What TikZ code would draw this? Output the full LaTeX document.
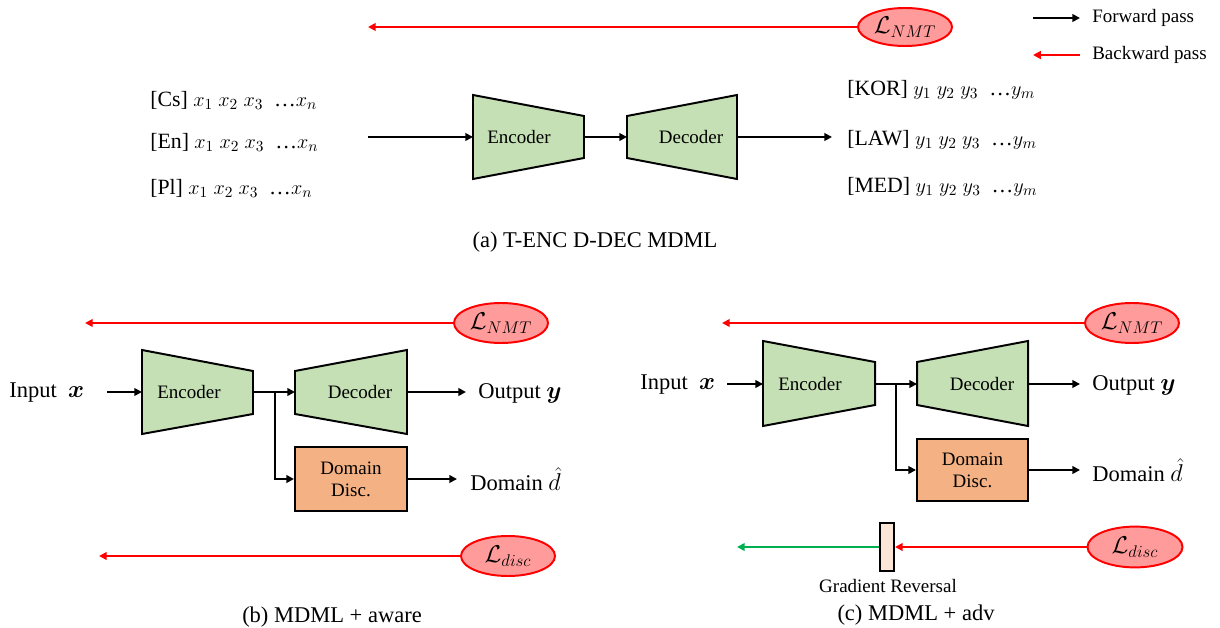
\documentclass[tikz,border=0pt]{standalone}
\usepackage{fontspec}
\setmainfont{Liberation Serif}
\usepackage{amsmath,bm}
\usetikzlibrary{arrows.meta,shapes.geometric}
\definecolor{encgreen}{HTML}{C5E0B4}
\definecolor{discorange}{HTML}{F4B183}
\definecolor{losspink}{HTML}{FF9B9B}
\definecolor{grfill}{HTML}{FBE5D6}
\definecolor{gradgreen}{HTML}{00B050}
\newcommand{\xseq}{$x_1\ x_2\ x_3$\ \ …$x_n$}
\newcommand{\yseq}{$y_1\ y_2\ y_3$\ \ …$y_m$}
\tikzset{
  fwd/.style={draw=black, line width=1.3pt, -{Triangle[length=5.5pt,width=5.5pt]}},
  bwd/.style={draw=red, line width=1.3pt, -{Triangle[length=5.5pt,width=5.5pt]}},
  gbwd/.style={draw=gradgreen, line width=1.3pt, -{Triangle[length=5.5pt,width=5.5pt]}},
  trap/.style={draw=black, fill=encgreen, line width=1.4pt, line join=miter},
  boxtext/.style={font=\fontsize{13.5}{16}\selectfont, inner sep=0pt},
  bigtext/.style={font=\fontsize{16}{19}\selectfont, inner sep=0pt, anchor=west},
  seqtext/.style={font=\fontsize{15.5}{18}\selectfont, inner sep=0pt, anchor=west},
  capt/.style={font=\fontsize{16}{19}\selectfont, inner sep=0pt},
  loss/.style={ellipse, draw=red, fill=losspink, line width=1.4pt, inner sep=0pt, font=\fontsize{16.5}{19}\selectfont},
  discbox/.style={draw=black, fill=discorange, line width=1.4pt, inner sep=0pt, align=center, font=\fontsize{13.5}{15.5}\selectfont},
  legtext/.style={font=\fontsize{13.5}{16}\selectfont, inner sep=0pt, anchor=west}
}
\begin{document}
\begin{tikzpicture}[x=0.025cm, y=-0.025cm]
\useasboundingbox (0,0) rectangle (1220,628);

% ---------------- (a) ----------------
\node[loss, minimum width=2.35cm, minimum height=0.95cm] (lossA) at (905,27) {$\mathcal{L}_{NMT}$};
\coordinate (bwdA) at (368,27);
\draw[bwd] (lossA.west) -- (bwdA);

% legend
\coordinate (legF1) at (1033,18); \coordinate (legF2) at (1080,18);
\coordinate (legB1) at (1080,55); \coordinate (legB2) at (1033,55);
\draw[fwd] (legF1) -- (legF2);
\draw[bwd] (legB1) -- (legB2);
\node[legtext] (legF) at (1092,18) {Forward pass};
\node[legtext] (legB) at (1092,55) {Backward pass};

% inputs
\node[seqtext] (srcCs) at (150,100) {[Cs] \xseq};
\node[seqtext] (srcEn) at (150,142) {[En] \xseq};
\node[seqtext] (srcPl) at (150,188) {[Pl] \xseq};

% encoder / decoder
\draw[trap] (473,95) -- (584,116) -- (584,158) -- (473,179) -- cycle;
\draw[trap] (627,116) -- (737,95) -- (737,179) -- (627,158) -- cycle;
\node[boxtext] (encA) at (519,137) {Encoder};
\node[boxtext] (decA) at (691,137) {Decoder};
\coordinate (inA) at (368,137);
\coordinate (encAin) at (473,137);
\coordinate (encAout) at (584,137);
\coordinate (decAin) at (627,137);
\coordinate (decAout) at (737,137);
\coordinate (outA) at (832,137);
\draw[fwd] (inA) -- (encAin);
\draw[fwd] (encAout) -- (decAin);
\draw[fwd] (decAout) -- (outA);

% outputs
\node[seqtext] (tgtKor) at (847,90) {[KOR] \yseq};
\node[seqtext] (tgtLaw) at (847,140) {[LAW] \yseq};
\node[seqtext] (tgtMed) at (847,187) {[MED] \yseq};

\node[capt] (captA) at (595,242) {(a) T-ENC D-DEC MDML};

% ---------------- (b) ----------------
\node[loss, minimum width=2.35cm, minimum height=1.0cm] (lossB) at (501,323) {$\mathcal{L}_{NMT}$};
\coordinate (bwdB) at (85,323);
\draw[bwd] (lossB.west) -- (bwdB);

\node[bigtext] (inB) at (9,393) {Input\ \ $\bm{x}$};
\coordinate (inBa) at (107,392);
\draw[trap] (142,350) -- (253,371) -- (253,414) -- (142,434) -- cycle;
\draw[trap] (295,371) -- (407,350) -- (407,434) -- (295,414) -- cycle;
\node[boxtext] (encB) at (189,392) {Encoder};
\node[boxtext] (decB) at (360,392) {Decoder};
\coordinate (encBin) at (142,392);
\coordinate (encBout) at (253,392);
\coordinate (brB) at (275,392);
\coordinate (decBin) at (295,392);
\coordinate (decBout) at (407,392);
\coordinate (outBa) at (466,392);
\draw[fwd] (inBa) -- (encBin);
\draw[fwd] (encBout) -- (decBin);
\draw[fwd] (decBout) -- (outBa);
\node[bigtext] (outB) at (478,393) {Output $\bm{y}$};

\node[discbox, minimum width=2.8cm, minimum height=1.6cm] (discB) at (351,479) {Domain\\Disc.};
\draw[fwd] (brB) |- (discB.west);
\coordinate (domBa) at (457,479);
\draw[fwd] (discB.east) -- (domBa);
\node[bigtext] (domB) at (470,479) {Domain $\hat{d}$};

\node[loss, minimum width=2.35cm, minimum height=1.0cm] (ldiscB) at (508,556) {$\mathcal{L}_{disc}$};
\coordinate (bwdB2) at (99,556);
\draw[bwd] (ldiscB.west) -- (bwdB2);

\node[capt] (captB) at (332,617) {(b) MDML + aware};

% ---------------- (c) ----------------
\node[loss, minimum width=2.35cm, minimum height=1.0cm] (lossC) at (1132,323) {$\mathcal{L}_{NMT}$};
\coordinate (bwdC) at (722,323);
\draw[bwd] (lossC.west) -- (bwdC);

\node[bigtext] (inC) at (640,385) {Input\ \ $\bm{x}$};
\coordinate (inCa) at (727,384);
\draw[trap] (763,341) -- (875,362) -- (875,405) -- (763,426) -- cycle;
\draw[trap] (917,362) -- (1028,341) -- (1028,426) -- (917,405) -- cycle;
\node[boxtext] (encC) at (810,384) {Encoder};
\node[boxtext] (decC) at (982,384) {Decoder};
\coordinate (encCin) at (763,384);
\coordinate (encCout) at (875,384);
\coordinate (brC) at (896,384);
\coordinate (decCin) at (917,384);
\coordinate (decCout) at (1028,384);
\coordinate (outCa) at (1080,384);
\draw[fwd] (inCa) -- (encCin);
\draw[fwd] (encCout) -- (decCin);
\draw[fwd] (decCout) -- (outCa);
\node[bigtext] (outC) at (1092,385) {Output $\bm{y}$};

\node[discbox, minimum width=2.775cm, minimum height=1.55cm] (discC) at (972.5,470) {Domain\\Disc.};
\draw[fwd] (brC) |- (discC.west);
\coordinate (domCa) at (1080,470);
\draw[fwd] (discC.east) -- (domCa);
\node[bigtext] (domC) at (1092,470) {Domain $\hat{d}$};

\node[loss, minimum width=2.375cm, minimum height=1.02cm] (ldiscC) at (1135,547) {$\mathcal{L}_{disc}$};
\node[draw=black, fill=grfill, line width=1.4pt, minimum width=0.35cm, minimum height=1.2cm, inner sep=0pt] (grC) at (887,547) {};
\coordinate (gbwdC) at (737,547);
\draw[bwd] (ldiscC.west) -- (grC.east);
\draw[gbwd] (grC.west) -- (gbwdC);
\node[boxtext] (grLabel) at (888,586) {Gradient Reversal};

\node[capt] (captC) at (916,615) {(c) MDML + adv};
\end{tikzpicture}
\end{document}
